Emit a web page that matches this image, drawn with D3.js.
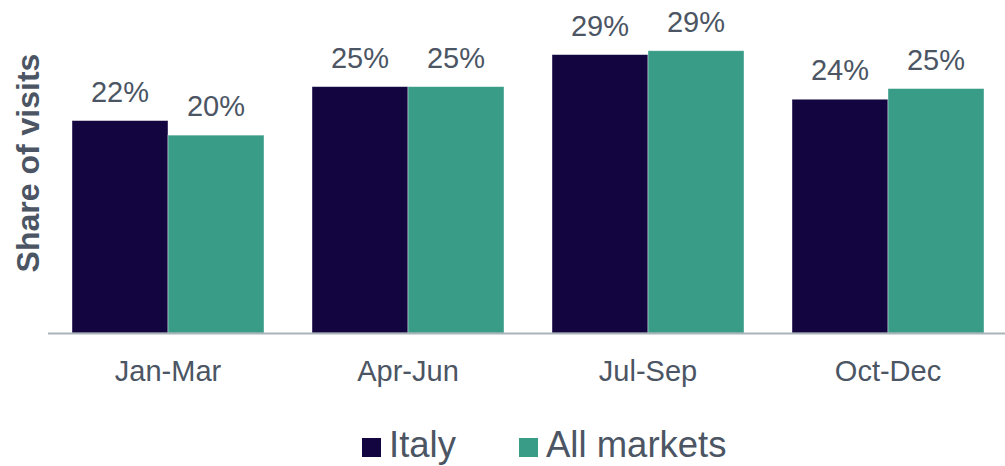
<!DOCTYPE html>
<html><head><meta charset="utf-8">
<script src="https://cdn.jsdelivr.net/npm/d3@7"></script>
<style>body{margin:0;background:#fff;}svg{display:block;font-family:"Liberation Sans",Arial,sans-serif;}</style>
</head><body>
<svg id="c" width="1005" height="466"></svg>
<script>
const categories = ["Jan-Mar", "Apr-Jun", "Jul-Sep", "Oct-Dec"];
const seriesNames = ["Italy", "All markets"];
const italy = [21.9, 25.4, 28.7, 24.1];
const allMarkets = [20.4, 25.4, 29.1, 25.2];
const labelsItaly = ["22%", "25%", "29%", "24%"];
const labelsAll = ["20%", "25%", "29%", "25%"];
const colors = ["#130640", "#389c86"];
const textColor = "#4b5563";

const svg = d3.select("#c");
const baseY = 333;
const x = d3.scaleBand().domain(categories).range([48, 1008]).paddingInner(0.2).paddingOuter(0.1);
const xs = d3.scaleBand().domain(seriesNames).range([0, x.bandwidth()]);
const y = d3.scaleLinear().domain([0, 30]).range([baseY, baseY - 291]);

const series = [italy, allMarkets];
const labels = [labelsItaly, labelsAll];

series.forEach((vals, si) => {
  const g = svg.append("g");
  g.selectAll("rect").data(categories).join("rect")
    .attr("x", (d) => x(d) + xs(seriesNames[si]))
    .attr("y", (d, i) => y(vals[i]))
    .attr("width", xs.bandwidth())
    .attr("height", (d, i) => y(0) - y(vals[i]))
    .attr("fill", colors[si])
    .attr("stroke", "#ffffff").attr("stroke-opacity", 0.5).attr("stroke-width", 0.8);
  g.selectAll("text").data(categories).join("text")
    .attr("x", (d) => x(d) + xs(seriesNames[si]) + xs.bandwidth() / 2)
    .attr("y", (d, i) => y(vals[i]) - 19)
    .attr("text-anchor", "middle")
    .attr("font-size", 29)
    .attr("fill", textColor)
    .text((d, i) => labels[si][i]);
});

// x axis
const xAxis = svg.append("g").attr("transform", `translate(0,${baseY})`)
  .call(d3.axisBottom(x).tickSize(0).tickPadding(0));
xAxis.select(".domain").attr("d", "M48,0.5H1005").attr("stroke", "#aab4b8").attr("stroke-width", 2);
xAxis.selectAll("text").attr("font-size", 29).attr("fill", textColor)
  .attr("dy", null).attr("y", 48)
  .attr("font-family", '"Liberation Sans",Arial,sans-serif');

// y title
svg.append("text")
  .attr("transform", "translate(39,163) rotate(-90)")
  .attr("text-anchor", "middle")
  .attr("font-size", 32).attr("font-weight", "bold")
  .attr("fill", textColor)
  .text("Share of visits");

// legend
const legend = [{name: "Italy", x: 362, c: colors[0]}, {name: "All markets", x: 519, c: colors[1]}];
const lg = svg.append("g");
legend.forEach((d, i) => {
  lg.append("rect").attr("x", d.x).attr("y", 438).attr("width", 19).attr("height", 19).attr("fill", d.c);
  lg.append("text").attr("x", d.x + 27).attr("y", 457).attr("font-size", 36.5).attr("fill", textColor).text(seriesNames[i]);
});
</script>
</body></html>
